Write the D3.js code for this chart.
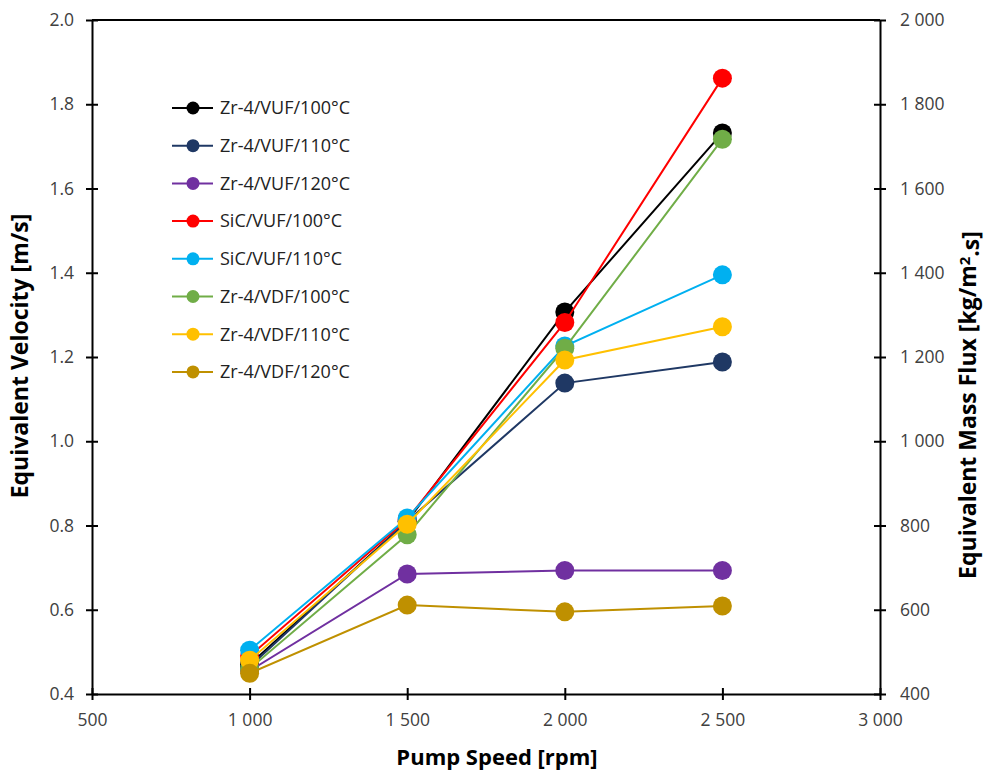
<!DOCTYPE html>
<html>
<head>
<meta charset="utf-8">
<script src="https://cdn.jsdelivr.net/npm/d3@7"></script>
<style>
  body { margin: 0; background: #fff; }
  text { font-family: "Open Sans", sans-serif; }
</style>
</head>
<body>
<svg id="chart" width="987" height="772"></svg>
<script>
// pump speeds (x) and equivalent velocity per series (m/s)
var pumpSpeeds = [1000, 1500, 2000, 2500]
var seriesNames = ["Zr-4/VUF/100°C", "Zr-4/VUF/110°C", "Zr-4/VUF/120°C", "SiC/VUF/100°C",
                   "SiC/VUF/110°C", "Zr-4/VDF/100°C", "Zr-4/VDF/110°C", "Zr-4/VDF/120°C"]
var seriesColors = ["#000000", "#1F3864", "#7030A0", "#FF0000", "#00B0F0", "#70AD47", "#FFC000", "#BF9000"]

var zrVuf100 = [0.47, 0.81, 1.307, 1.732]
var zrVuf110 = [0.465, 0.81, 1.138, 1.188]
var zrVuf120 = [0.455, 0.685, 0.693, 0.693]
var sicVuf100 = [0.49, 0.815, 1.282, 1.862]
var sicVuf110 = [0.504, 0.818, 1.226, 1.395]
var zrVdf100 = [0.46, 0.778, 1.221, 1.717]
var zrVdf110 = [0.48, 0.803, 1.193, 1.272]
var zrVdf120 = [0.449, 0.611, 0.595, 0.609]
var seriesValues = [zrVuf100, zrVuf110, zrVuf120, sicVuf100, sicVuf110, zrVdf100, zrVdf110, zrVdf120]

var xTicks = [500, 1000, 1500, 2000, 2500, 3000]
var yTicks = [0.4, 0.6, 0.8, 1.0, 1.2, 1.4, 1.6, 1.8, 2.0]
var y2Ticks = [400, 600, 800, 1000, 1200, 1400, 1600, 1800, 2000]

var svg = d3.select('#chart')
// note: "top" is taken by window.top, so use plot* names
var plotLeft = 92, plotRight = 880, plotTop = 20, plotBottom = 694

var x = d3.scaleLinear().domain([500, 3000]).range([plotLeft, plotRight])
var y = d3.scaleLinear().domain([0.4, 2.0]).range([plotBottom, plotTop])
var y2 = d3.scaleLinear().domain([400, 2000]).range([plotBottom, plotTop])

var thousands = d => d >= 1000 ? d3.format(",")(d).replace(",", " ") : String(d)

// top border
svg.append("line")
  .attr("x1", plotLeft).attr("x2", plotRight).attr("y1", plotTop).attr("y2", plotTop)
  .attr("stroke", "#000").attr("stroke-width", 2)

function styleAxis(g) {
  g.select(".domain").attr("stroke", "#000").attr("stroke-width", 2)
  g.selectAll(".tick line").attr("stroke", "#000").attr("stroke-width", 2)
  g.selectAll(".tick text").attr("fill", "#404040")
    .style("font-size", "17.5px").style("font-family", "Open Sans, sans-serif")
}

// x axis (cross ticks)
var gx = svg.append("g").attr("transform", "translate(0," + plotBottom + ")")
  .call(d3.axisBottom(x).tickValues(xTicks).tickFormat(thousands).tickSize(6).tickSizeOuter(0).tickPadding(14))
gx.selectAll(".tick line").attr("y1", -6)
styleAxis(gx)

var gy = svg.append("g").attr("transform", "translate(" + plotLeft + ",0)")
  .call(d3.axisLeft(y).tickValues(yTicks).tickFormat(d3.format(".1f")).tickSize(6).tickSizeOuter(0).tickPadding(12))
gy.selectAll(".tick line").attr("x1", 6)
styleAxis(gy)

var gy2 = svg.append("g").attr("transform", "translate(" + plotRight + ",0)")
  .call(d3.axisRight(y2).tickValues(y2Ticks).tickFormat(thousands).tickSize(6).tickSizeOuter(0).tickPadding(14))
gy2.selectAll(".tick line").attr("x1", -6)
styleAxis(gy2)

// series
var line = d3.line().x((d, i) => x(pumpSpeeds[i])).y(d => y(d))
seriesValues.forEach(function(vals, s) {
  var g = svg.append("g")
  g.append("path").datum(vals)
    .attr("d", line).attr("fill", "none")
    .attr("stroke", seriesColors[s]).attr("stroke-width", 2)
  g.selectAll("circle").data(vals).join("circle")
    .attr("cx", (d, i) => x(pumpSpeeds[i])).attr("cy", d => y(d))
    .attr("r", 9.5).attr("fill", seriesColors[s])
})

// legend
var legend = svg.append("g").attr("transform", "translate(172,108)")
var item = legend.selectAll("g").data(seriesNames).join("g")
  .attr("transform", (d, i) => "translate(0," + (i * 37.7) + ")")
item.append("line").attr("x1", 0).attr("x2", 41)
  .attr("stroke", (d, i) => seriesColors[i]).attr("stroke-width", 2)
item.append("circle").attr("cx", 21).attr("r", 6.5).attr("fill", (d, i) => seriesColors[i])
item.append("text").attr("x", 48).attr("dy", "0.35em")
  .attr("fill", "#222").style("font-size", "18px").text(d => d)

// axis titles
svg.append("text").attr("x", 497).attr("y", 765).attr("text-anchor", "middle")
  .style("font-size", "22px").style("font-weight", "bold").text("Pump Speed [rpm]")
svg.append("text").attr("transform", "translate(28,356) rotate(-90)").attr("text-anchor", "middle")
  .style("font-size", "23px").style("font-weight", "bold").text("Equivalent Velocity [m/s]")
var t2 = svg.append("text").attr("transform", "translate(976,405) rotate(-90)").attr("text-anchor", "middle")
  .style("font-size", "23px").style("font-weight", "bold")
t2.append("tspan").text("Equivalent Mass Flux [kg/m")
t2.append("tspan").attr("dy", "-0.4em").style("font-size", "15px").text("2")
t2.append("tspan").attr("dy", "0.4em").text(".s]")
</script>
</body>
</html>
